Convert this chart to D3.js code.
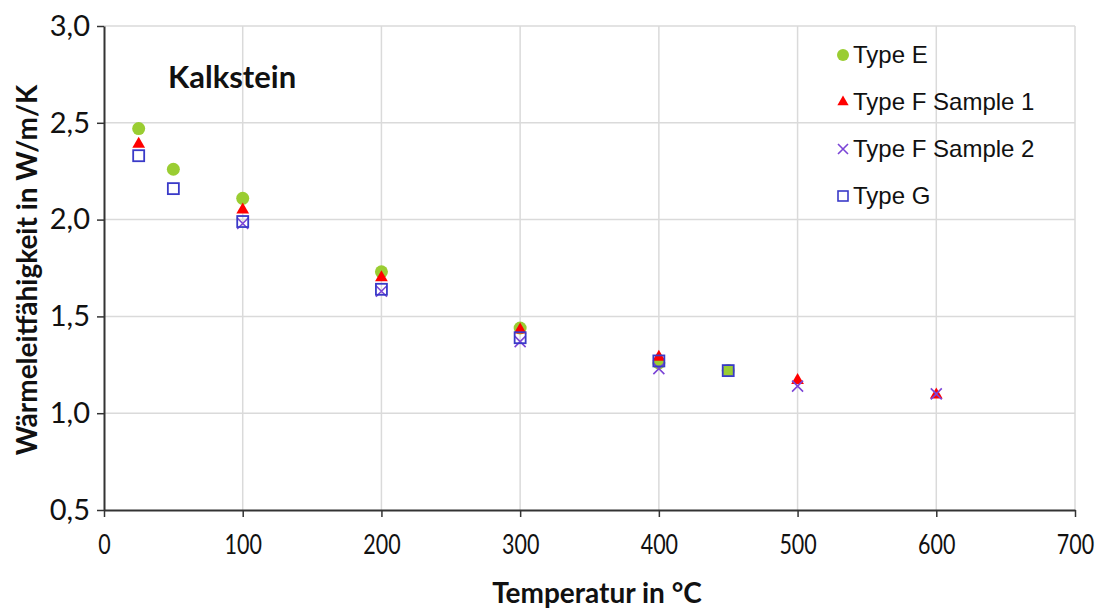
<!DOCTYPE html>
<html>
<head>
<meta charset="utf-8">
<script src="https://cdn.jsdelivr.net/npm/d3@7"></script>
<style>
  html, body { margin: 0; padding: 0; background: #fff; }
  svg { display: block; }
</style>
</head>
<body>
<svg id="chart" width="1099" height="610"></svg>
<script>
// Wärmeleitfähigkeit von Kalkstein über der Temperatur
const typeETemp = [25, 50, 100, 200, 300, 400, 450];
const typeEVal  = [2.47, 2.26, 2.11, 1.73, 1.44, 1.26, 1.22];

const typeF1Temp = [25, 100, 200, 300, 400, 500, 600];
const typeF1Val  = [2.39, 2.05, 1.70, 1.43, 1.29, 1.17, 1.095];

const typeF2Temp = [100, 200, 300, 400, 500, 600];
const typeF2Val  = [1.98, 1.63, 1.37, 1.23, 1.14, 1.10];

const typeGTemp = [25, 50, 100, 200, 300, 400, 450];
const typeGVal  = [2.33, 2.16, 1.99, 1.64, 1.39, 1.27, 1.22];

const xTicks = [0, 100, 200, 300, 400, 500, 600, 700];
const yTicks = [0.5, 1.0, 1.5, 2.0, 2.5, 3.0];
const seriesNames = ["Type E", "Type F Sample 1", "Type F Sample 2", "Type G"];

const svg = d3.select("#chart");
const plotLeft = 104, plotRight = 1075, plotTop = 26, plotBottom = 510;

const x = d3.scaleLinear().domain([0, 700]).range([plotLeft, plotRight]);
const y = d3.scaleLinear().domain([0.5, 3.0]).range([plotBottom, plotTop]);

const zip = (t, v) => t.map((d, i) => ({ t: d, v: v[i] }));

// grid
const grid = svg.append("g");
grid.selectAll("line.v").data(xTicks.slice(1)).join("line")
  .attr("x1", d => x(d)).attr("x2", d => x(d))
  .attr("y1", plotTop).attr("y2", plotBottom)
  .attr("stroke", "#dadada").attr("stroke-width", 1.5);
grid.selectAll("line.h").data(yTicks.slice(1)).join("line")
  .attr("x1", plotLeft).attr("x2", plotRight)
  .attr("y1", d => y(d)).attr("y2", d => y(d))
  .attr("stroke", "#dadada").attr("stroke-width", 1.5);

// axes
const fmt = d3.format(".1f");
const xAxis = svg.append("g").attr("transform", `translate(0,${plotBottom})`)
  .call(d3.axisBottom(x).tickValues(xTicks).tickSize(7).tickSizeOuter(0).tickPadding(17));
const yAxis = svg.append("g").attr("transform", `translate(${plotLeft},0)`)
  .call(d3.axisLeft(y).tickValues(yTicks).tickSize(7).tickSizeOuter(0).tickPadding(7)
    .tickFormat(d => fmt(d).replace(".", ",")));
[xAxis, yAxis].forEach(a => {
  a.select(".domain").attr("stroke", "#333").attr("stroke-width", 2);
  a.selectAll(".tick line").attr("stroke", "#333").attr("stroke-width", 1.5);
  a.selectAll(".tick text").attr("fill", "#111");
});
// condensed, slightly tall temperature labels
xAxis.selectAll(".tick text")
  .style("font-family", "Lato, 'Open Sans', sans-serif").style("font-size", "25px")
  .attr("transform", "scale(0.86,1.06)");
yAxis.selectAll(".tick text")
  .style("font-family", "Lato, 'Open Sans', sans-serif").style("font-size", "29px");

// titles
const boldFont = "Lato, 'Open Sans', sans-serif";
svg.append("text").attr("x", 597).attr("y", 603)
  .attr("text-anchor", "middle")
  .style("font-family", boldFont).style("font-weight", "bold").style("font-size", "28px")
  .attr("fill", "#111").text("Temperatur in °C");
svg.append("text").attr("transform", `translate(37,270) rotate(-90)`)
  .attr("text-anchor", "middle")
  .style("font-family", boldFont).style("font-weight", "bold").style("font-size", "28px")
  .attr("fill", "#111").text("Wärmeleitfähigkeit in W/m/K");
svg.append("text").attr("x", 168).attr("y", 88)
  .style("font-family", boldFont).style("font-weight", "bold").style("font-size", "31px")
  .attr("fill", "#111").text("Kalkstein");

// marker shapes
const green = "#9acd32", red = "#ff0000", purple = "#7b45d6", blue = "#3a3ac8";
const triPath = d3.symbol().type(d3.symbolTriangle).size(70)();
function drawCircle(g) { g.append("circle").attr("r", 6.5).attr("fill", green); }
function drawTri(g) { g.append("path").attr("d", triPath).attr("fill", red); }
function drawCross(g) {
  g.append("path").attr("d", "M-5.5,-5.5L5.5,5.5M-5.5,5.5L5.5,-5.5")
    .attr("stroke", purple).attr("stroke-width", 1.6).attr("fill", "none");
}
function drawSquare(g) {
  g.append("rect").attr("x", -5.5).attr("y", -5.5).attr("width", 11).attr("height", 11)
    .attr("fill", "none").attr("stroke", blue).attr("stroke-width", 1.8);
}
const drawers = [drawCircle, drawTri, drawCross, drawSquare];
const seriesData = [zip(typeETemp, typeEVal), zip(typeF1Temp, typeF1Val), zip(typeF2Temp, typeF2Val), zip(typeGTemp, typeGVal)];

const plot = svg.append("g");
seriesData.forEach((data, i) => {
  plot.append("g").selectAll("g").data(data).join("g")
    .attr("transform", d => `translate(${x(d.t)},${y(d.v)})`)
    .each(function () { drawers[i](d3.select(this)); });
});

// legend
const legend = svg.append("g");
seriesNames.forEach((name, i) => {
  const yy = 55 + i * 47;
  const m = legend.append("g").attr("transform", `translate(843,${yy})`);
  if (i === 0) m.append("circle").attr("r", 6).attr("fill", green);
  if (i === 1) m.append("path").attr("d", d3.symbol().type(d3.symbolTriangle).size(55)()).attr("fill", red);
  if (i === 2) m.append("path").attr("d", "M-5,-5L5,5M-5,5L5,-5").attr("stroke", purple).attr("stroke-width", 1.6);
  if (i === 3) m.append("rect").attr("x", -5).attr("y", -5).attr("width", 10).attr("height", 10)
    .attr("fill", "none").attr("stroke", blue).attr("stroke-width", 1.6);
  legend.append("text").attr("x", 853).attr("y", yy + 8)
    .style("font-family", "'Liberation Sans', Arial, sans-serif").style("font-size", "24px")
    .attr("fill", "#111").text(name);
});
</script>
</body>
</html>
